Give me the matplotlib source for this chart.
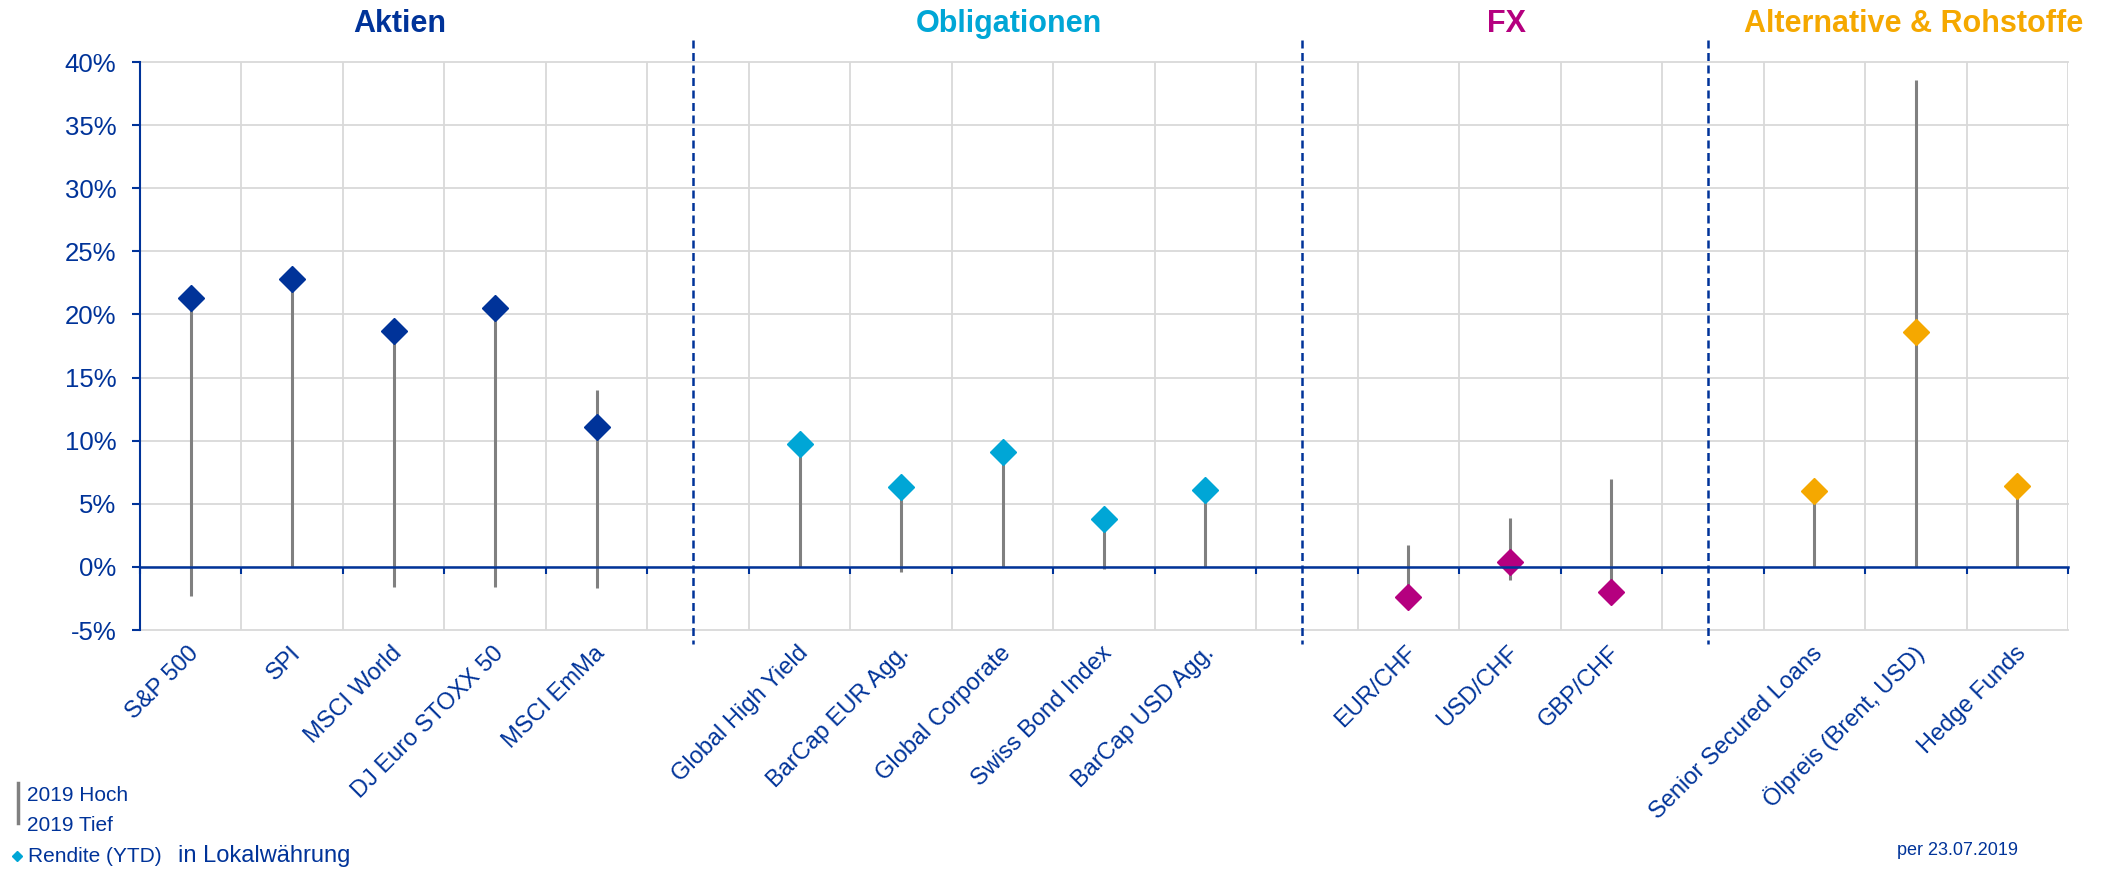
import matplotlib
matplotlib.use('Agg')
from matplotlib import pyplot as plt
from matplotlib.lines import Line2D
import matplotlib.transforms as mtransforms

plt.rcParams['font.family'] = ['Liberation Sans', 'DejaVu Sans']

blue = '#003399'
grey = '#808080'
grid_c = '#d9d9d9'

# data (in %)
groups = ['Aktien', 'Obligationen', 'FX', 'Alternative & Rohstoffe']
group_colors = ['#003399', '#00a6d6', '#b5007f', '#f5a800']
group_sizes = [5, 5, 3, 3]
names = ['S&P 500', 'SPI', 'MSCI World', 'DJ Euro STOXX 50', 'MSCI EmMa',
         'Global High Yield', 'BarCap EUR Agg.', 'Global Corporate',
         'Swiss Bond Index', 'BarCap USD Agg.',
         'EUR/CHF', 'USD/CHF', 'GBP/CHF',
         'Senior Secured Loans', 'Ölpreis (Brent, USD)', 'Hedge Funds']
rendite = [21.3, 22.8, 18.7, 20.5, 11.1,
           9.7, 6.3, 9.1, 3.8, 6.1,
           -2.4, 0.4, -2.0,
           6.0, 18.6, 6.4]
hoch = [21.3, 22.8, 18.7, 20.5, 14.0,
        9.7, 6.3, 9.1, 3.8, 6.1,
        1.7, 3.9, 7.0,
        6.0, 38.6, 6.4]
tief = [-2.3, 0.0, -1.6, -1.6, -1.7,
        0.0, -0.4, 0.0, -0.2, 0.0,
        -2.4, -1.0, -2.0,
        0.0, 0.0, 0.0]
yticks = [-5, 0, 5, 10, 15, 20, 25, 30, 35, 40]

# x positions with one empty slot between groups
xpos, cols, gap_x = [], [], []
slot = 0
for g, n in enumerate(group_sizes):
    for i in range(n):
        xpos.append(slot)
        cols.append(group_colors[g])
        slot += 1
    if g < len(group_sizes) - 1:
        gap_x.append(slot - 0.05)
        slot += 1
nslots = slot

fig = plt.figure(figsize=(21.26, 8.72), dpi=100)
ax = fig.add_axes([140/2126, 1-630/872, (2068-140)/2126, (630-62)/872])

ax.vlines(xpos, tief, hoch, color=grey, lw=2.2, zorder=3)
for x, r, c in zip(xpos, rendite, cols):
    ax.plot(x, r, marker='D', ms=13, color=c, mec=c, zorder=4, ls='none')

ax.set_xlim(-0.5, nslots - 0.5)
ax.set_ylim(-5, 40)
ax.set_yticks(yticks)
ax.set_yticklabels([f'{t}%' for t in yticks])
ax.set_xticks([k + 0.5 for k in range(-1, nslots)])
ax.set_xticklabels([])

ax.grid(color=grid_c, lw=1.3)
for gl in ax.get_xgridlines() + ax.get_ygridlines():
    gl.set_clip_on(False)
ax.set_axisbelow(True)

for s in ['top', 'right']:
    ax.spines[s].set_visible(False)
ax.spines['bottom'].set_position(('data', 0))
ax.spines['bottom'].set_color(blue)
ax.spines['bottom'].set_linewidth(1.8)
ax.spines['left'].set_color(blue)
ax.spines['left'].set_linewidth(1.5)
ax.spines['bottom'].set_zorder(5)
ax.tick_params(axis='x', direction='out', length=5, width=1.5, color=blue)
ax.tick_params(axis='y', direction='out', length=6, width=1.5, color=blue,
               labelcolor=blue, labelsize=18.5, pad=11)

# category labels
trans = mtransforms.blended_transform_factory(ax.transData, ax.transAxes)
for x, nm in zip(xpos, names):
    ax.text(x + 0.05, -0.035, nm, transform=trans, rotation=45,
            rotation_mode='anchor', ha='right', va='center',
            fontsize=17, color=blue)

# dashed separators
for gx in gap_x:
    ax.plot([gx, gx], [41.75, -6.1], ls=(0, (3.2, 1.8)), color=blue,
            lw=1.8, clip_on=False, zorder=2)

# group headers
header_x = [2.06, 8.06, 12.97, 16.98]
for hx, gname, gc in zip(header_x, groups, group_colors):
    ax.text(hx, 1.067, gname, transform=trans, ha='center', va='center',
            fontsize=22, fontweight='bold', color=gc)

# legend
W, H = 2126, 872
fig.add_artist(Line2D([18/W, 18/W], [1-783/H, 1-823/H], color=grey, lw=2.5))
fig.text(27/W, 1-795/H, '2019 Hoch', fontsize=15, color=blue, va='center')
fig.text(27/W, 1-825/H, '2019 Tief', fontsize=15, color=blue, va='center')
fig.add_artist(Line2D([17/W], [1-856/H], marker='D', ms=5, color='#00a6d6'))
fig.text(28/W, 1-856/H, 'Rendite (YTD)', fontsize=15, color=blue, va='center')
fig.text(178/W, 1-856/H, 'in Lokalwährung', fontsize=17, color=blue, va='center')
fig.text(1897/W, 1-850/H, 'per 23.07.2019', fontsize=13, color=blue, va='center')

fig.savefig('out.png', dpi=100, facecolor='white')
